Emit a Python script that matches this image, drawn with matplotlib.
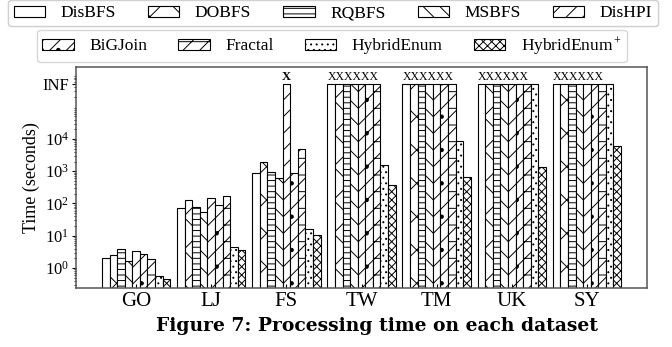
import numpy as np
import matplotlib
matplotlib.use("Agg")
import matplotlib.pyplot as plt
from matplotlib.patches import Patch

plt.rcParams['font.family'] = ['Liberation Serif', 'DejaVu Serif']
plt.rcParams['mathtext.fontset'] = 'custom'
plt.rcParams['mathtext.rm'] = 'Liberation Serif'
plt.rcParams['mathtext.it'] = 'Liberation Serif:italic'
plt.rcParams['hatch.linewidth'] = 0.7

# value used for runs that did not finish
INF = 5e5

datasets = ['GO', 'LJ', 'FS', 'TW', 'TM', 'UK', 'SY']
methods = ['DisBFS', 'DOBFS', 'RQBFS', 'MSBFS', 'DisHPI',
           'BiGJoin', 'Fractal', 'HybridEnum', 'HybridEnum$^+$']

DisBFS = [2.1, 74, 850, INF, INF, INF, INF]
DOBFS = [2.5, 124, 1870, INF, INF, INF, INF]
RQBFS = [3.8, 79, 980, INF, INF, INF, INF]
MSBFS = [1.7, 55, 620, INF, INF, INF, INF]
DisHPI = [3.4, 144, INF, INF, INF, INF, INF]
BiGJoin = [2.7, 89, 870, INF, INF, INF, INF]
Fractal = [1.9, 169, 4800, INF, INF, INF, INF]
HybridEnum = [0.56, 4.4, 16, 1550, 8900, INF, INF]
HybridEnumPlus = [0.47, 3.7, 10.7, 385, 680, 1350, 5900]

series = [DisBFS, DOBFS, RQBFS, MSBFS, DisHPI, BiGJoin, Fractal,
          HybridEnum, HybridEnumPlus]
hatches = ['', 'x', '---', '\\\\', '//', '//.', '//-', '...', 'xxxx']

# failure markers drawn above groups: (dataset, first method index, text)
fail_marks = [('FS', 4, 'X'), ('TW', 0, 'XXXXXX'), ('TM', 0, 'XXXXXX'),
              ('UK', 0, 'XXXXXX'), ('SY', 0, 'XXXXXX')]

W, H = 672, 347
fig = plt.figure(figsize=(W / 100, H / 100), dpi=100)
ax = fig.add_axes([76 / W, 1 - 288 / H, (647 - 76) / W, (288 - 67) / H])

x = np.arange(len(datasets))
bw = 0.101
n = len(series)
for i, (vals, h) in enumerate(zip(series, hatches)):
    ax.bar(x + (i - (n - 1) / 2) * bw, vals, width=bw, bottom=1e-3,
           facecolor='white', edgecolor='black', linewidth=0.8, hatch=h)

for ds, mi, txt in fail_marks:
    gi = datasets.index(ds)
    left = gi + (mi - (n - 1) / 2) * bw
    if len(txt) == 1:
        ax.text(left, INF * 1.05, txt, ha='center', va='bottom',
                fontsize=9, fontweight='bold')
    else:
        ax.text(left - bw / 2, INF * 1.05, txt, ha='left', va='bottom',
                fontsize=8.5)

ax.set_yscale('log')
ax.set_ylim(0.24, 1.7e6)
ax.set_xlim(-0.8, 6.8)
ax.set_yticks([1, 10, 100, 1000, 1e4, INF])
ax.set_yticklabels(['$10^0$', '$10^1$', '$10^2$', '$10^3$', '$10^4$', 'INF'],
                   fontsize=12)
ax.set_xticks(x)
ax.set_xticklabels(datasets, fontsize=15)
ax.tick_params(axis='x', direction='in', length=3, pad=3)
ax.tick_params(axis='y', which='major', direction='out', length=3, pad=2)
ax.tick_params(axis='y', which='minor', direction='out', length=1.5)
ax.set_ylabel('Time (seconds)', fontsize=13, labelpad=2)
for s in ax.spines.values():
    s.set_color('#555555')
    s.set_linewidth(1.1)

handles = [Patch(facecolor='white', edgecolor='black', linewidth=0.8,
                 hatch=h, label=m) for m, h in zip(methods, hatches)]

leg1 = fig.legend(handles=handles[:5], loc='upper center', ncol=5,
                  bbox_to_anchor=(333 / W, 1.0), fontsize=12.5,
                  handlelength=1.8, handleheight=0.6, columnspacing=1.85,
                  handletextpad=0.9, borderaxespad=0.0, borderpad=0.3)
leg2 = fig.legend(handles=handles[5:], loc='upper center', ncol=4,
                  bbox_to_anchor=(332 / W, 1 - 30 / H), fontsize=12.5,
                  handlelength=1.8, handleheight=0.6, columnspacing=1.8,
                  handletextpad=0.9, borderaxespad=0.0, borderpad=0.3)
fig.add_artist(leg1)
leg1.set_zorder(5)
leg2.set_zorder(4)

fig.text(377 / W, 1 - 326 / H, 'Figure 7: Processing time on each dataset',
         ha='center', va='center', fontsize=13.5, fontweight='bold',
         family='DejaVu Serif')

fig.savefig('out.png', dpi=100)
